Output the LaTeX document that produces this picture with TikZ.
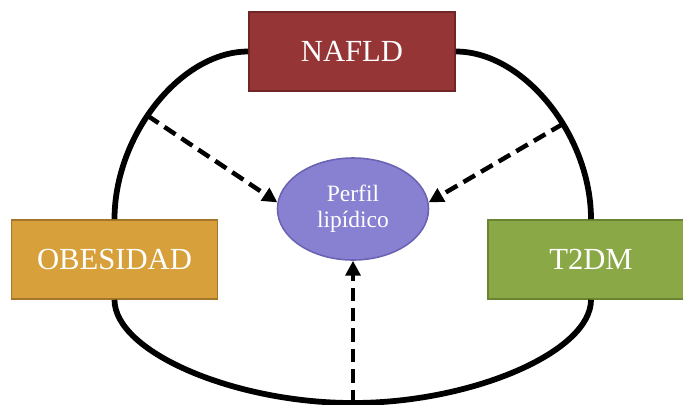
\documentclass[tikz,border=0pt]{standalone}
\usepackage{fontspec}
\setmainfont{Liberation Serif}
\usetikzlibrary{arrows.meta,shapes.geometric}
\definecolor{rojonafld}{RGB}{150,53,53}
\definecolor{rojoborde}{RGB}{112,38,38}
\definecolor{ocreobes}{RGB}{216,160,58}
\definecolor{ocreborde}{RGB}{164,118,42}
\definecolor{verdet2dm}{RGB}{138,168,70}
\definecolor{verdeborde}{RGB}{106,132,50}
\definecolor{lilalip}{RGB}{136,128,208}
\definecolor{lilaborde}{RGB}{106,98,178}

\begin{document}
\begin{tikzpicture}[
					x=0.025cm,y=-0.025cm,
					caja/.style={rectangle,draw,line width=1.1pt,minimum width=5.15cm,minimum height=1.975cm,inner sep=0pt,text=white,font=\fontsize{21.8}{26}\selectfont},
					lazo/.style={line width=4.1pt},
					flecha/.style={line width=3.2pt,dash pattern=on 9.5pt off 5pt,-{Triangle[length=10.5pt,width=10.5pt]}}
					]
					\useasboundingbox (0,0) rectangle (683,404);
					\node[caja,fill=rojonafld,draw=rojoborde] (nafld) at (352,51.5) {NAFLD};
					\node[caja,fill=ocreobes,draw=ocreborde] (obes) at (114.5,259.5) {OBESIDAD};
					\node[caja,fill=verdet2dm,draw=verdeborde] (t2dm) at (591,259.5) {T2DM};
					\node[ellipse,draw=lilaborde,fill=lilalip,line width=1.1pt,minimum width=3.775cm,minimum height=2.55cm,inner sep=0pt,
						text=white,align=center,font=\fontsize{16.7}{18.3}\selectfont] (lip) at (353,209) {Perfil\\lipídico};
					\coordinate (fondo) at (353,403);
					\draw[lazo] (nafld.west) .. controls +(-67.5,0) and +(0,-84) .. (obes.north) coordinate[pos=0.56] (c1);
					\draw[lazo] (nafld.east) .. controls +(68,0) and +(0,-84) .. (t2dm.north) coordinate[pos=0.6] (c2);
					\draw[lazo] (obes.south) .. controls +(0,52) and +(-119,0) .. (fondo) .. controls +(119,0) and +(0,52) .. (t2dm.south);
					\draw[flecha] (c1) -- (lip.175);
					\draw[flecha] (c2) -- (lip.5);
					\draw[flecha] (fondo) -- (lip.south);
				\end{tikzpicture}
\end{document}
